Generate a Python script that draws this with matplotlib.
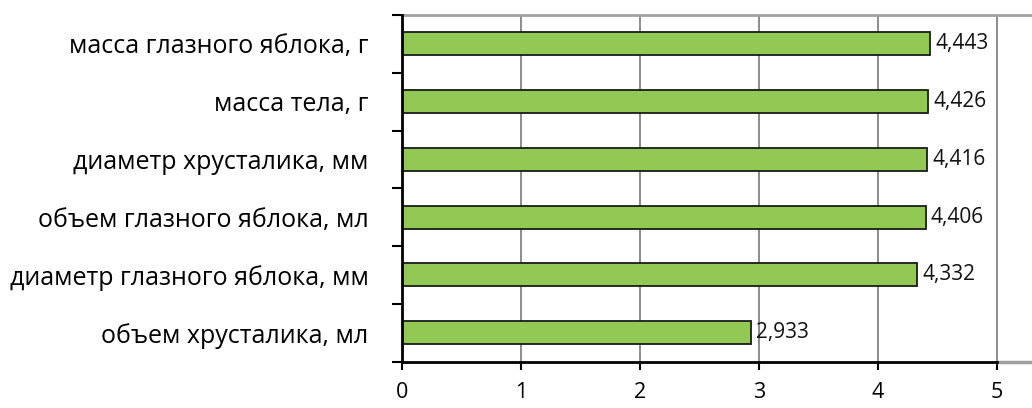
import matplotlib
matplotlib.use("Agg")
import matplotlib.pyplot as plt
from matplotlib.transforms import offset_copy

plt.rcParams['font.family'] = ['Open Sans', 'DejaVu Sans']

categories = [
    "объем хрусталика, мл",
    "диаметр глазного яблока, мм",
    "объем глазного яблока, мл",
    "диаметр хрусталика, мм",
    "масса тела, г",
    "масса глазного яблока, г",
]
values = [2.933, 4.332, 4.406, 4.416, 4.426, 4.443]
x_ticks = [0, 1, 2, 3, 4, 5]

fig = plt.figure(figsize=(10.32, 4.08), dpi=100)
# axes spans past the right edge, the original chart is cropped there
ax = fig.add_axes([402 / 1032, (408 - 361.5) / 408, (1040 - 402) / 1032, (361.5 - 15) / 408])

y = range(len(categories))
ax.barh(y, values, height=0.4, color="#92C955", edgecolor="#1a1a1a", linewidth=1.3, zorder=3)

for i, v in enumerate(values):
    lbl = f"{v:.3f}".replace(".", ",")
    tr = offset_copy(ax.transData, fig=fig, x=5, y=0, units="dots")
    ax.text(v, i, lbl, transform=tr, va="center", ha="left", fontsize=15, color="#111111")

unit = (996.5 - 402) / 5
ax.set_xlim(0, (1040 - 402) / unit)
ax.set_ylim(-0.5, len(categories) - 0.5)

ax.set_xticks(x_ticks)
ax.set_xticklabels([str(t) for t in x_ticks], fontsize=15.5)
ax.set_yticks([i - 0.5 for i in range(len(categories) + 1)])
ax.set_yticklabels([])
ax.set_yticks(list(y), minor=True)
ax.set_yticklabels(categories, minor=True, fontsize=18)
ax.tick_params(axis="y", which="minor", length=0, pad=24)
ax.tick_params(axis="y", which="major", length=7, width=1.5, color="black")
ax.tick_params(axis="x", length=6, width=1.5, color="black", pad=9)

ax.grid(axis="x", color="#8c8c8c", linewidth=1.4, zorder=0)
for s in ["top", "right"]:
    ax.spines[s].set_color("#a0a0a0")
    ax.spines[s].set_linewidth(2)
ax.spines["left"].set_color("black")
ax.spines["left"].set_linewidth(2)
ax.spines["left"].set_zorder(4)
ax.spines["bottom"].set_visible(False)
# bottom axis line: black up to 5, grey beyond
ax.plot([0, 5], [-0.5, -0.5], color="black", linewidth=2, clip_on=False, zorder=5)
ax.plot([5, ax.get_xlim()[1]], [-0.5, -0.5], color="#a0a0a0", linewidth=2.5, clip_on=False, zorder=4)

fig.savefig("out.png", dpi=100)
